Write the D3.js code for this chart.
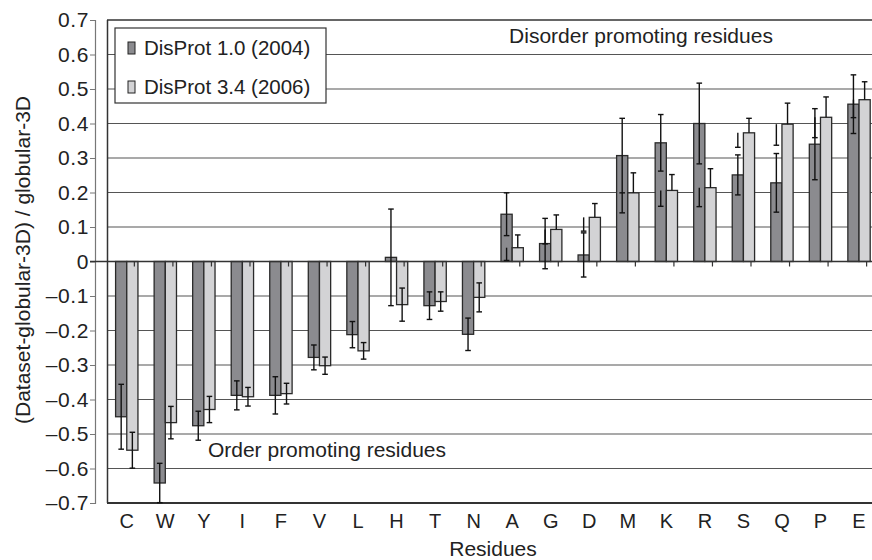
<!DOCTYPE html>
<html><head><meta charset="utf-8">
<script src="https://cdn.jsdelivr.net/npm/d3@7"></script>
<style>body{margin:0;background:#fff}svg{display:block}text{font-family:"Liberation Sans",Arial,sans-serif;fill:#222}</style>
</head><body><svg id="c" width="872" height="560"></svg>
<script>
const categories = ["C","W","Y","I","F","V","L","H","T","N","A","G","D","M","K","R","S","Q","P","E"];
const disprot10 = [-0.450,-0.642,-0.476,-0.388,-0.388,-0.278,-0.212,0.012,-0.128,-0.211,0.137,0.052,0.019,0.307,0.344,0.400,0.251,0.228,0.340,0.456];
const disprot10Err = [0.094,0.057,0.042,0.042,0.054,0.036,0.038,0.140,0.040,0.047,0.062,0.073,0.064,0.108,0.082,0.117,0.058,0.085,0.103,0.085];
const disprot34 = [-0.547,-0.467,-0.429,-0.392,-0.383,-0.302,-0.259,-0.125,-0.116,-0.104,0.040,0.093,0.128,0.199,0.206,0.214,0.373,0.398,0.418,0.469];
const disprot34Err = [0.052,0.047,0.038,0.027,0.030,0.025,0.024,0.048,0.028,0.042,0.037,0.042,0.040,0.058,0.046,0.055,0.042,0.061,0.059,0.052];
const yTicks = [0.7,0.6,0.5,0.4,0.3,0.2,0.1,0,-0.1,-0.2,-0.3,-0.4,-0.5,-0.6,-0.7];
const seriesNames = ["DisProt 1.0 (2004)","DisProt 3.4 (2006)"];
const colors = ["#8b8b8f","#d3d3d5"];

const svg = d3.select("#c");
const x = d3.scaleBand().domain(categories).range([107.5, 878.3]).padding(0);
const y = d3.scaleLinear().domain([-0.7, 0.7]).range([503, 20]);
const bw = x.bandwidth()*0.29;
const cx = (c,i) => x(c) + x.bandwidth()/2 + (i===0 ? -bw/2 : bw/2);
const fmt = v => v===0 ? "0" : (v<0 ? "\u2013" + Math.abs(v).toFixed(1) : v.toFixed(1));

// gridlines
svg.append("g").selectAll("line").data(yTicks.filter(v=>v!==0 && Math.abs(v)<0.7)).join("line")
  .attr("x1",107.5).attr("x2",872).attr("y1",d=>y(d)).attr("y2",d=>y(d))
  .attr("stroke","#555").attr("stroke-width",1.1);

// y axis (separate)
const ya = svg.append("g").attr("transform","translate(95,0)")
  .call(d3.axisLeft(y).tickValues(yTicks).tickFormat(fmt).tickSize(5).tickPadding(1));
ya.select(".domain").attr("stroke","#777").attr("stroke-width",1.2);
ya.selectAll(".tick line").attr("stroke","#777");
ya.selectAll(".tick text").style("font-size","21px").style("letter-spacing","0.6px").attr("fill","#222");

// plot frame
svg.append("line").attr("x1",107.5).attr("x2",107.5).attr("y1",20).attr("y2",503).attr("stroke","#333").attr("stroke-width",1.5);
svg.append("line").attr("x1",107).attr("x2",872).attr("y1",20).attr("y2",20).attr("stroke","#333").attr("stroke-width",1.5);
svg.append("line").attr("x1",107).attr("x2",872).attr("y1",503).attr("y2",503).attr("stroke","#333").attr("stroke-width",2);

// legend
const lg = svg.append("g");
lg.append("rect").attr("x",115).attr("y",28).attr("width",211).attr("height",75).attr("fill","#fff").attr("stroke","#333").attr("stroke-width",1.2);
seriesNames.forEach((n,i)=>{
  lg.append("rect").attr("x",128).attr("y",[42,81][i]).attr("width",7).attr("height",12).attr("fill",colors[i]).attr("stroke","#222").attr("stroke-width",1);
  lg.append("text").attr("x",144).attr("y",[55,94][i]).style("font-size","20.5px").text(n);
});

// bars
const data = [disprot10, disprot34];
data.forEach((vals,i)=>{
  svg.append("g").selectAll("rect").data(categories).join("rect")
    .attr("x",(c)=>cx(c,i)-bw/2).attr("width",bw)
    .attr("y",(c,k)=>Math.min(y(vals[k]),y(0))).attr("height",(c,k)=>Math.abs(y(vals[k])-y(0)))
    .attr("fill",colors[i]).attr("stroke","#2a2a2a").attr("stroke-width",1.3);
});

// zero line
svg.append("line").attr("x1",90).attr("x2",872).attr("y1",y(0)).attr("y2",y(0)).attr("stroke","#333").attr("stroke-width",1.3);
// category ticks at zero line
svg.append("g").selectAll("line").data(categories).join("line")
  .attr("x1",c=>cx(c,1)+2).attr("x2",c=>cx(c,1)+2).attr("y1",y(0)).attr("y2",y(0)+5)
  .attr("stroke","#333").attr("stroke-width",1.2);

// error bars
const eg = svg.append("g").attr("stroke","#111").attr("stroke-width",1.4);
function seg(xp, v1, v2){
  eg.append("line").attr("x1",xp).attr("x2",xp).attr("y1",y(v1)).attr("y2",y(v2));
  eg.append("line").attr("x1",xp-2.8).attr("x2",xp+2.8).attr("y1",y(v2)).attr("y2",y(v2));
}
categories.forEach((c,k)=>{
  const v = disprot10[k], e = disprot10Err[k];
  seg(cx(c,0), v, v+e); seg(cx(c,0), v, v-e);
  const v2 = disprot34[k], e2 = disprot34Err[k];
  seg(cx(c,1), v2, v2+e2);
  seg(v2<0 ? cx(c,1) : cx(c,0), v2, v2-e2);
});

// annotations
svg.append("text").attr("x",641).attr("y",43).attr("text-anchor","middle").style("font-size","21px").text("Disorder promoting residues");
svg.append("text").attr("x",327).attr("y",457).attr("text-anchor","middle").style("font-size","21px").text("Order promoting residues");

// category labels
svg.append("g").selectAll("text").data(categories).join("text")
  .attr("x",c=>x(c)+x.bandwidth()/2).attr("y",528).attr("text-anchor","middle").style("font-size","20px").text(d=>d);

// axis titles
svg.append("text").attr("x",493).attr("y",556).attr("text-anchor","middle").style("font-size","21px").text("Residues");
svg.append("text").attr("transform","translate(30,260) rotate(-90)").attr("text-anchor","middle").style("font-size","21px").text("(Dataset-globular-3D) / globular-3D");
</script></body></html>
